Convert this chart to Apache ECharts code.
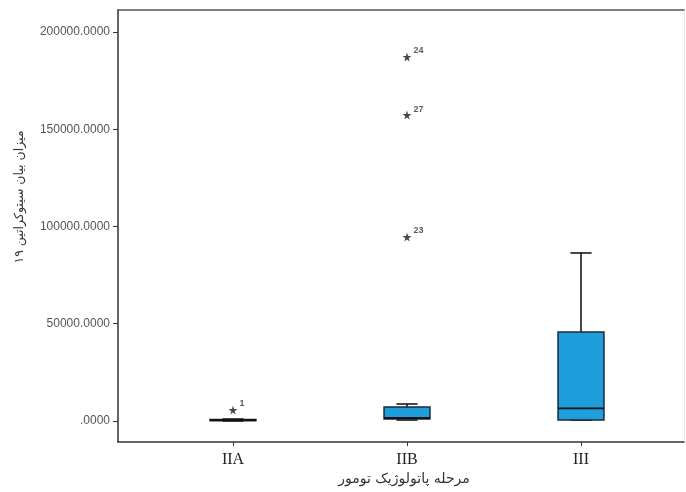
<!DOCTYPE html>
<html>
<head>
<meta charset="utf-8">
<script src="https://cdn.jsdelivr.net/npm/echarts@6/dist/echarts.min.js"></script>
<style>html,body{margin:0;padding:0;background:#fff}#c{width:686px;height:492px}</style>
</head>
<body>
<div id="c"></div>
<script>
var categories = ['IIA', 'IIB', 'III'];
// [min, q1, median, q3, max]
var boxIIA = [0, 150, 400, 800, 1000];
var boxIIB = [500, 1030, 1540, 7200, 8740];
var boxIII = [510, 510, 6530, 45760, 86375];
var outlierCats = [0, 1, 1, 1];
var outlierValues = [5650, 187150, 157300, 94600];
var outlierIds = ['1', '24', '27', '23'];
var yTicks = [0, 50000, 100000, 150000, 200000];
var yMin = -10800, yMax = 211300;
var xTitle = 'مرحله پاتولوژیک تومور';
var yTitle = 'میزان بیان سیتوکراتین ۱۹';

var boxes = [boxIIA, boxIIB, boxIII];
var boxData = boxes.map(function (b, i) { return [i].concat(b); });
var outData = outlierValues.map(function (v, i) { return [outlierCats[i], v, outlierIds[i]]; });

var chart = echarts.init(document.getElementById('c'), null, {renderer: 'canvas'});
var starPath = 'path://M50,0 L61,35 L98,35 L68,57 L79,91 L50,70 L21,91 L32,57 L2,35 L39,35 Z';

function fmt(v) {
  var s = v.toFixed(4);
  return v === 0 ? s.replace(/^0/, '') : s;
}

chart.setOption({
  animation: false,
  grid: [
    {left: 118, right: 2, top: 10, bottom: 50},
    {left: 146, right: 18, top: 10, bottom: 50}
  ],
  xAxis: [
    {gridIndex: 0, type: 'value', min: 0, max: 1, position: 'bottom',
      axisLine: {show: true, onZero: false, lineStyle: {color: '#333', width: 1.5}},
      axisTick: {show: false}, axisLabel: {show: false}, splitLine: {show: false}},
    {gridIndex: 0, type: 'value', min: 0, max: 1, position: 'top',
      axisLine: {show: true, onZero: false, lineStyle: {color: '#555', width: 1.5}},
      axisTick: {show: false}, axisLabel: {show: false}, splitLine: {show: false}},
    {gridIndex: 1, type: 'category', data: categories, position: 'bottom',
      axisLine: {show: false, onZero: false},
      axisTick: {show: true, alignWithLabel: true, length: 4, lineStyle: {color: '#333'}},
      axisLabel: {color: '#222', fontFamily: 'Liberation Serif', fontSize: 16, margin: 10},
      splitLine: {show: false}}
  ],
  yAxis: [
    {gridIndex: 0, type: 'value', min: yMin, max: yMax, position: 'left',
      axisLine: {show: true, onZero: false, lineStyle: {color: '#333', width: 1.5}},
      axisTick: {show: true, length: 5, customValues: yTicks, lineStyle: {color: '#333'}},
      axisLabel: {customValues: yTicks, formatter: fmt, color: '#555', fontFamily: 'Liberation Sans', fontSize: 12, margin: 8},
      splitLine: {show: false}},
    {gridIndex: 0, type: 'value', min: yMin, max: yMax, position: 'right',
      axisLine: {show: true, onZero: false, lineStyle: {color: '#e6e6e6', width: 1}},
      axisTick: {show: false}, axisLabel: {show: false}, splitLine: {show: false}},
    {gridIndex: 1, type: 'value', min: yMin, max: yMax, show: false, splitLine: {show: false}}
  ],
  series: [
    {
      type: 'custom', xAxisIndex: 2, yAxisIndex: 2, data: boxData,
      renderItem: function (params, api) {
        var i = api.value(0);
        var pMin = api.coord([i, api.value(1)]);
        var pQ1 = api.coord([i, api.value(2)]);
        var pMed = api.coord([i, api.value(3)]);
        var pQ3 = api.coord([i, api.value(4)]);
        var pMax = api.coord([i, api.value(5)]);
        var x = pMed[0];
        var hw = api.size([1, 0])[0] * 0.132;
        var cw = hw * 0.46;
        var stroke = {stroke: '#1a1a1a', lineWidth: 1.6, fill: null};
        return {
          type: 'group',
          children: [
            {type: 'line', shape: {x1: x, y1: pQ3[1], x2: x, y2: pMax[1]}, style: stroke},
            {type: 'line', shape: {x1: x - cw, y1: pMax[1], x2: x + cw, y2: pMax[1]}, style: stroke},
            {type: 'line', shape: {x1: x, y1: pQ1[1], x2: x, y2: pMin[1]}, style: stroke},
            {type: 'line', shape: {x1: x - cw, y1: pMin[1], x2: x + cw, y2: pMin[1]}, style: stroke},
            {type: 'rect', shape: {x: x - hw, y: pQ3[1], width: 2 * hw, height: pQ1[1] - pQ3[1]},
              style: {fill: '#1e9edb', stroke: '#1a2a3a', lineWidth: 1.5}},
            {type: 'line', shape: {x1: x - hw, y1: pMed[1], x2: x + hw, y2: pMed[1]},
              style: {stroke: '#111', lineWidth: 1.8}}
          ]
        };
      }
    },
    {
      type: 'scatter', xAxisIndex: 2, yAxisIndex: 2, data: outData,
      symbol: starPath, symbolSize: 9,
      itemStyle: {color: '#1a1a1a'},
      label: {show: true, position: 'right', offset: [-3, -6],
        formatter: function (p) { return p.value[2]; },
        color: '#333', fontSize: 9, fontWeight: 'bold', fontFamily: 'Liberation Sans'}
    }
  ],
  graphic: [
    {type: 'text', x: 404, y: 479,
      style: {text: xTitle, fontFamily: 'DejaVu Sans', fontSize: 14, fill: '#333', align: 'center', verticalAlign: 'middle'}},
    {type: 'text', x: 20, y: 197, rotation: Math.PI / 2,
      style: {text: yTitle, fontFamily: 'DejaVu Sans', fontSize: 12.5, fill: '#333', align: 'center', verticalAlign: 'middle'}}
  ]
});
</script>
</body>
</html>
